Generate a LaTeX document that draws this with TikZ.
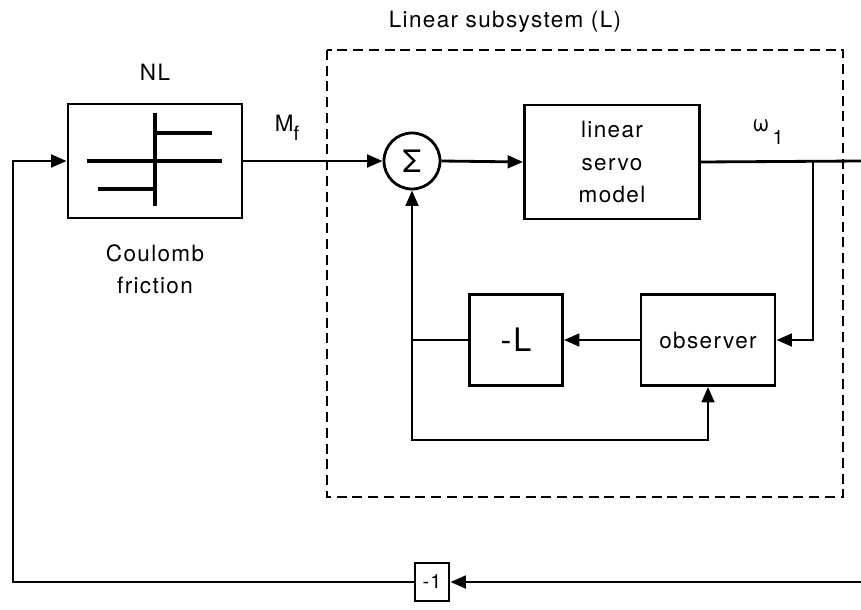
\documentclass[tikz,border=0pt]{standalone}
\usepackage{fontspec}
\setmainfont{TeX Gyre Heros}[LetterSpace=6]
\usetikzlibrary{positioning, arrows.meta}

\begin{document}
\begin{tikzpicture}[x=0.025cm, y=-0.025cm, font=\fontsize{16}{23}\selectfont,
  >={Triangle[length=11pt, width=9pt]}, line width=2pt,
  blk/.style={draw, line width=2pt, align=center, inner sep=2pt},
  sumnode/.style={draw, circle, line width=2pt, minimum size=1.4cm, inner sep=0pt},
  subsys/.style={draw, dash pattern=on 7pt off 4.2pt, line width=2.1pt},
]
  \useasboundingbox (0,0) rectangle (861,610);
  % blocks
  \node[blk, minimum width=4.35cm, minimum height=2.85cm] (NL) at (155,161) {};
  \node[sumnode, font=\fontsize{22}{22}\selectfont] (sum) at (412,161) {Σ};
  \node[blk, minimum width=4.375cm, minimum height=2.85cm] (servo) at (612,162) {linear\\servo\\model};
  \node[blk, minimum width=2.325cm, minimum height=2.275cm, font=\fontsize{23}{23}\selectfont] (negL) at (516,340) {-L};
  \node[blk, minimum width=3.35cm, minimum height=2.275cm] (obs) at (708,340) {observer};
  \node[blk, minimum width=0.85cm, minimum height=0.95cm, font=\fontsize{14}{14}\selectfont] (m1) at (432,582) {-1};
  % Coulomb characteristic inside NL
  \draw[line width=2.4pt] (87,161) -- (222,161);
  \draw[line width=2.4pt] (155,113) -- (155,206);
  \draw[line width=2.4pt] (155,133) -- (212,133);
  \draw[line width=2.4pt] (98,189) -- (155,189);
  % labels
  \node (ttlL) at (505,22) {Linear subsystem (L)};
  \node (ttlNL) at (155,72) {NL};
  \node[align=center] (coul) at (155,269) {Coulomb\\friction};
  \node (Mf) at (287,128) {M\raisebox{-0.8ex}{\fontsize{14}{14}\selectfont f}};
  \node (w1) at (768,132) {ω\raisebox{-1.1ex}{\fontsize{14}{14}\selectfont\,1}};
  % subsystem frame
  \draw[subsys] (327,50) rectangle (843,497);
  % connectors
  \coordinate (out) at (861,161);
  \coordinate (br) at (813,161);
  \coordinate (rin) at (861,582);
  \coordinate (bl) at (13,582);
  \coordinate (lp) at (412,440);
  \draw[->] (NL.east) -- (sum.west);
  \draw[->] (sum.east) -- (servo.west);
  \draw (servo.east) -- (out);
  \draw[->] (br) |- (obs.east);
  \draw[->] (obs.west) -- (negL.east);
  \draw[->] (negL.west) -| (sum.south);
  \draw[->] (sum.south |- negL.west) -- (lp) -| (obs.south);
  \draw[->] (rin) -- (m1.east);
  \draw[->] (m1.west) -- (bl) |- (NL.west);
\end{tikzpicture}
\end{document}
